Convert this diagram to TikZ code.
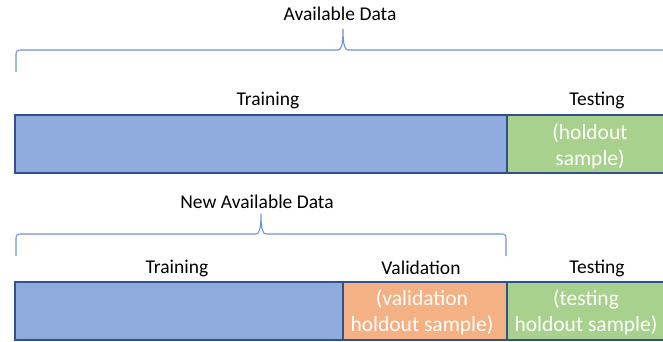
\documentclass[tikz,border=0pt]{standalone}
\usepackage{fontspec}
\setmainfont{Carlito}
\definecolor{bluefill}{HTML}{8FAADC}
\definecolor{blueline}{HTML}{2F528F}
\definecolor{greenfill}{HTML}{A9D18E}
\definecolor{orangefill}{HTML}{F4B183}
\definecolor{bracecol}{HTML}{6F93D6}
\begin{document}
\begin{tikzpicture}[x=1pt,y=-1pt,
  lbl/.style={font=\fontsize{19.5}{23}\selectfont, text=black, inner sep=0pt},
  boxtxt/.style={font=\fontsize{21.5}{26}\selectfont, text=white, align=center, inner sep=0pt},
  bluebox/.style={fill=bluefill, draw=blueline, line width=1.6pt},
  greenbox/.style={fill=greenfill, draw=blueline, line width=1.2pt},
  orangebox/.style={fill=orangefill, draw=blueline, line width=1.2pt},
  bracestyle/.style={draw=bracecol, line width=1.1pt}]
\useasboundingbox (0,0) rectangle (663,342);
\clip (0,0) rectangle (663,342);
\fill[white] (0,0) rectangle (663,342);

% top row
\node[lbl] (avail) at (340,14) {Available Data};
\draw[bracestyle] (16,72) -- (16,55) .. controls (16,51) and (17,50) .. (21,50) -- (338,50)
  .. controls (341,50) and (343,46) .. (343,29)
  .. controls (343,46) and (345,50) .. (348,50) -- (665,50)
  .. controls (669,50) and (670,51) .. (670,55) -- (670,72);
\node[lbl] (train1) at (268,100) {Training};
\node[lbl] (test1) at (597,100) {Testing};
\path[greenbox] (507,115) rectangle (690,173);
\path[bluebox] (15,115) rectangle (507,173);
\node[boxtxt] (hold1) at (590,146) {(holdout\\sample)};

% bottom row
\node[lbl] (newavail) at (257,202) {New Available Data};
\draw[bracestyle] (16,256) -- (16,239) .. controls (16,235) and (17,234) .. (21,234) -- (256,234)
  .. controls (259,234) and (261,230) .. (261,214)
  .. controls (261,230) and (263,234) .. (266,234) -- (501,234)
  .. controls (505,234) and (506,235) .. (506,239) -- (506,256);
\node[lbl] (train2) at (177,268) {Training};
\node[lbl] (valid2) at (421,268) {Validation};
\node[lbl] (test2) at (597,268) {Testing};
\path[greenbox] (507,282) rectangle (690,340);
\path[orangebox] (343,282) rectangle (507,340);
\path[bluebox] (15,282) rectangle (343,340);
\node[boxtxt] (hold2) at (422,312) {(validation\\holdout sample)};
\node[boxtxt] (hold3) at (586,312) {(testing\\holdout sample)};
\end{tikzpicture}
\end{document}
